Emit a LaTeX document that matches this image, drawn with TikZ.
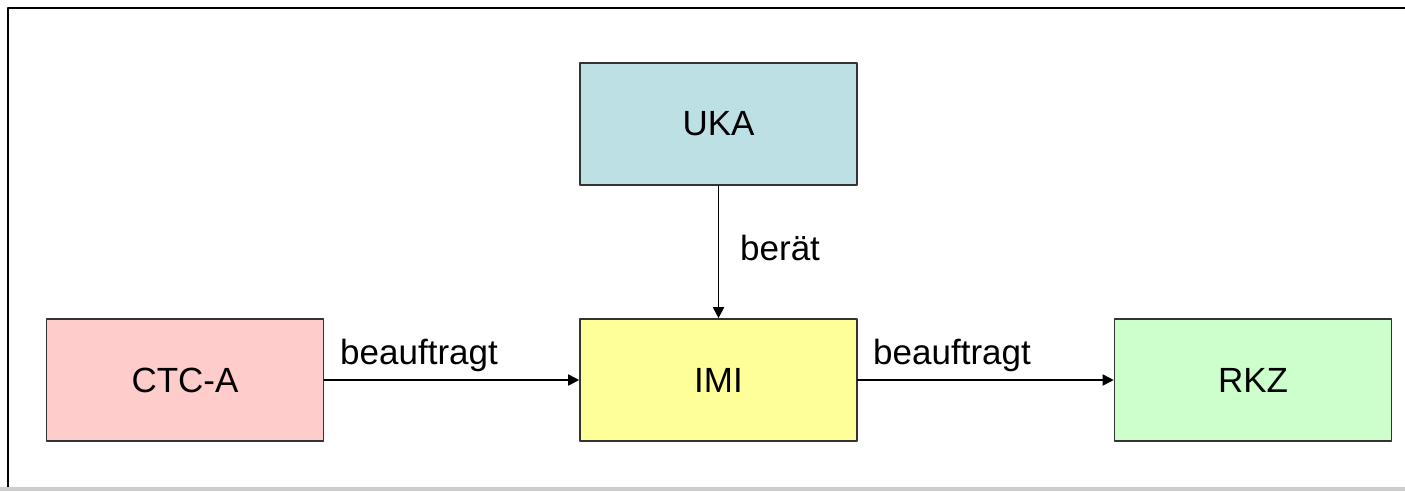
\documentclass[tikz,border=0pt]{standalone}
\usepackage{fontspec}
\setmainfont{Liberation Sans}
\usetikzlibrary{arrows.meta}

\definecolor{ukablue}{HTML}{BCE0E4}
\definecolor{ctcred}{HTML}{FFCCCC}
\definecolor{imiyellow}{HTML}{FFFF99}
\definecolor{rkzgreen}{HTML}{CCFFCC}

\tikzset{
  orgbox/.style={draw=black!80,line width=1.6pt,minimum width=277pt,minimum height=122pt,inner sep=0pt,
    font=\fontsize{35}{42}\selectfont},
  rel/.style={->,line width=1.8pt},
  rellabel/.style={inner sep=0pt,font=\fontsize{35}{42}\selectfont}
}

\begin{document}
\begin{tikzpicture}[line cap=round,line join=round,>={Triangle[length=11pt,width=11pt]},x=1pt,y=-1pt]
\useasboundingbox (0,0) rectangle (1405,491);
% frame and lower bar
\fill[black!20] (0,487) rectangle (1405,491);
\draw[line width=2pt,line cap=butt] (8,487) -- (8,8) -- (1405,8);
% boxes
\node[orgbox,fill=ukablue] (uka) at (718.5,124) {UKA};
\node[orgbox,fill=ctcred] (ctc) at (185,380) {CTC-A};
\node[orgbox,fill=imiyellow] (imi) at (718.5,380) {IMI};
\node[orgbox,fill=rkzgreen] (rkz) at (1253,380) {RKZ};
% relations
\draw[rel] (uka) -- (imi);
\draw[rel] (ctc) -- (imi);
\draw[rel] (imi) -- (rkz);
\node[rellabel,anchor=base west] (ctcimi) at (340,364) {beauftragt};
\node[rellabel,anchor=base west] (imirkz) at (873,364) {beauftragt};
\node[rellabel,anchor=west] (ukaimi) at (740,248) {berät};
\end{tikzpicture}
\end{document}
